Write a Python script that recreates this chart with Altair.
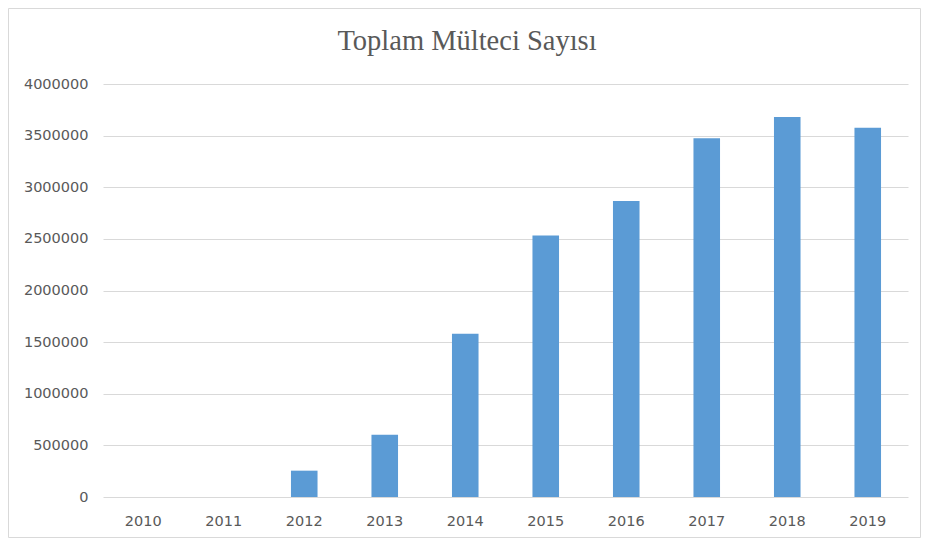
import altair as alt
import pandas as pd

title_text = "Toplam Mülteci Sayısı"
years = ["2010", "2011", "2012", "2013", "2014", "2015", "2016", "2017", "2018", "2019"]
values = [0, 0, 255000, 603000, 1581000, 2532000, 2868000, 3474000, 3681000, 3577000]
y_ticks = [0, 500000, 1000000, 1500000, 2000000, 2500000, 3000000, 3500000, 4000000]

df = pd.DataFrame({"Yıl": years, "Mülteci": values})

W, H = 805, 413
PL, PT, PR, PB = 95, 76, 13, 41
LABEL_FONT = "DejaVu Sans"
GREY = "#595959"

bars = alt.Chart(df).mark_bar(color="#5B9BD5").encode(
    x=alt.X("Yıl:N", sort=years, title=None,
            scale=alt.Scale(paddingInner=0.67, paddingOuter=0.335),
            axis=alt.Axis(labelAngle=0, domain=False, ticks=False, labelPadding=17,
                          labelFontSize=14.5, labelColor=GREY, labelFont=LABEL_FONT)),
    y=alt.Y("Mülteci:Q", title=None,
            scale=alt.Scale(domain=[0, 4000000], nice=False),
            axis=alt.Axis(values=y_ticks, format="d", domain=False, ticks=False,
                          labelPadding=15, labelFontSize=14.5, labelColor=GREY,
                          labelFont=LABEL_FONT, gridColor="#d9d9d9", gridWidth=1)),
)

border = alt.Chart(pd.DataFrame({"a": [0]})).mark_rect(
    fill=None, stroke="#d9d9d9", strokeWidth=1
).encode(
    x=alt.value(-PL + 0.5), x2=alt.value(W + PR - 0.5),
    y=alt.value(-PT + 0.5), y2=alt.value(H + PB - 0.5),
)

title = alt.Chart(pd.DataFrame({"t": [title_text]})).mark_text(
    font="Liberation Serif", fontSize=28.5, color=GREY, align="center", baseline="alphabetic"
).encode(
    text="t:N", x=alt.value(364), y=alt.value(-34),
)

chart = alt.layer(bars, border, title).properties(
    width=W, height=H,
    autosize=alt.AutoSizeParams(type="none"),
    padding={"left": PL, "top": PT, "right": PR, "bottom": PB},
).configure_view(stroke=None)

chart.save("out.html", embed_options={"renderer": "svg", "actions": False})
